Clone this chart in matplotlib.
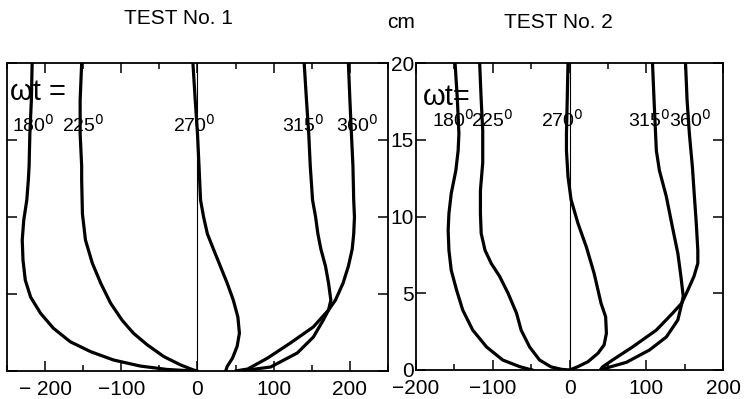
import numpy as np
import matplotlib
matplotlib.use("Agg")
import matplotlib.pyplot as plt

plt.rcParams['font.family'] = ['Liberation Sans', 'DejaVu Sans']

# ---- TEST No. 1 : velocity (x) vs height above bed in cm (y) ----
t1_180_y = [20, 17.6, 15.4, 13.3, 12.4, 11.1, 9.8, 8.5, 7.2, 5.9, 4.8, 3.75, 2.77, 1.9, 1.25, 0.71, 0.32, 0.1, 0]
t1_180_x = [-217, -218, -220, -221, -222, -224, -228, -230, -229, -226, -219, -206, -189, -167, -140, -110, -75, -40, -5]

t1_225_y = [20, 17.6, 15.4, 13.3, 12.4, 10.2, 8.5, 7.0, 5.7, 4.4, 3.3, 2.45, 1.7, 0.93, 0.39, 0.06, 0]
t1_225_x = [-152, -154, -154, -152, -152, -151, -147, -138, -127, -114, -99, -84, -66, -44, -22, -5, 0]

t1_270_y = [20, 17.6, 15.4, 13.3, 11.1, 10.0, 8.9, 7.9, 6.8, 5.7, 4.6, 3.5, 2.45, 1.6, 0.84, 0.3, 0]
t1_270_x = [-6, -3, 0, 2, 4, 8, 13, 21, 30, 39, 47, 53, 55, 52, 46, 39, 37]

t1_315_y = [20, 17.6, 15.4, 13.3, 11.1, 10.0, 8.9, 7.9, 6.8, 5.7, 4.6, 3.96, 3.3, 2.2, 1.17, 0.26, 0.06, 0]
t1_315_x = [140, 143, 146, 148, 151, 155, 158, 162, 168, 172, 175, 172, 165, 152, 131, 96, 66, 50]

t1_360_y = [20, 17.6, 15.4, 13.3, 11.1, 10.0, 8.9, 7.9, 6.8, 5.7, 4.6, 3.96, 2.86, 1.82, 0.84, 0.13, 0]
t1_360_x = [198, 200, 202, 204, 205, 206, 205, 203, 198, 191, 181, 172, 152, 122, 92, 66, 50]

# ---- TEST No. 2 ----
t2_180_y = [20, 17.6, 15.4, 14.3, 13.0, 11.5, 10.2, 9.1, 7.8, 6.5, 5.2, 3.9, 2.6, 1.5, 0.65, 0.22, 0.04, 0]
t2_180_x = [-149, -146, -144, -145, -148, -154, -157, -158, -157, -154, -147, -139, -126, -108, -87, -65, -52, -48]

t2_225_y = [20, 17.6, 15.6, 13.5, 11.7, 10.2, 8.9, 7.8, 6.95, 6.1, 5.0, 3.7, 2.6, 1.5, 0.65, 0.2, 0.04, 0]
t2_225_x = [-117, -115, -113, -113, -116, -116, -115, -110, -102, -91, -80, -69, -63, -52, -39, -24, -10, 0]

t2_270_y = [20, 17.6, 15.4, 14.3, 12.6, 11.1, 9.55, 8.0, 6.3, 4.35, 3.47, 2.39, 1.63, 1.09, 0.54, 0.22, 0]
t2_270_x = [-2, -3, -4, -4, -2, 2, 11, 22, 32, 41, 47, 48, 45, 37, 24, 11, 0]

t2_315_y = [20, 17.6, 15.4, 14.3, 13.0, 11.3, 9.3, 7.6, 6.1, 4.8, 4.3, 3.26, 2.15, 1.3, 0.5, 0.13, 0]
t2_315_x = [108, 110, 112, 113, 117, 126, 134, 141, 145, 148, 146, 141, 126, 104, 74, 48, 42]

t2_360_y = [20, 17.6, 15.4, 14.3, 13.2, 11.7, 9.55, 7.8, 6.95, 6.1, 5.2, 4.35, 3.69, 2.6, 1.5, 0.65, 0.2, 0]
t2_360_x = [151, 153, 156, 158, 160, 162, 165, 167, 167, 162, 154, 146, 134, 113, 82, 56, 43, 40]

phase_labels = ['180$^0$', '225$^0$', '270$^0$', '315$^0$', '360$^0$']
t1_label_x = [-215, -150, -4, 139, 209]
t2_label_x = [-152, -100, -10, 104, 157]

fontsize_selected = 15

fig = plt.figure(figsize=(7.44, 3.99), dpi=100)
ax1 = fig.add_axes([0.0094, 0.0702, 0.5121, 0.772])
ax2 = fig.add_axes([0.559, 0.0727, 0.413, 0.7693])

t1 = [(t1_180_x, t1_180_y), (t1_225_x, t1_225_y), (t1_270_x, t1_270_y),
      (t1_315_x, t1_315_y), (t1_360_x, t1_360_y)]
t2 = [(t2_180_x, t2_180_y), (t2_225_x, t2_225_y), (t2_270_x, t2_270_y),
      (t2_315_x, t2_315_y), (t2_360_x, t2_360_y)]

for ax, curves in [(ax1, t1), (ax2, t2)]:
    for cx, cy in curves:
        ax.plot(cx, cy, color='black', lw=2.3, solid_capstyle='round',
                solid_joinstyle='round')
    ax.axvline(0, color='black', lw=0.8)
    ax.set_ylim(0, 20)
    ax.set_xticks([-200, -100, 0, 100, 200])
    ax.set_yticks([0, 5, 10, 15, 20])
    ax.tick_params(which='both', direction='in', top=True, right=True,
                   labelsize=fontsize_selected, width=1.1)
    ax.tick_params(which='major', length=7)
    ax.tick_params(which='minor', length=4.5)
    ax.tick_params(axis='y', pad=1.5)
    ax.tick_params(axis='x', pad=6.5)
    for s in ax.spines.values():
        s.set_linewidth(1.3)

ax1.set_xlim(-250, 250)
ax1.set_xticks(np.arange(-250, 251, 50), minor=True)
ax1.set_xticklabels(['\u2212 200', '\u2212100', '0', '100', '200'])
ax1.tick_params(axis='y', labelleft=False)

ax2.set_xlim(-200, 200)
ax2.set_xticks(np.arange(-200, 201, 50), minor=True)
ax2.set_xticklabels(['\u2212200', '\u2212100', '0', '100', '200'])

# phase annotations
ax1.text(-246, 18.1, '\u03c9t =', fontsize=21, va='center', ha='left')
ax2.text(-191, 17.8, '\u03c9t=', fontsize=21, va='center', ha='left')
for lab, xx in zip(phase_labels, t1_label_x):
    ax1.text(xx, 16.0, lab, fontsize=14, ha='center', va='center')
for lab, xx in zip(phase_labels, t2_label_x):
    ax2.text(xx, 16.3, lab, fontsize=14, ha='center', va='center')

fig.text(0.24, 0.953, 'TEST No. 1', fontsize=fontsize_selected, ha='center', va='center')
fig.text(0.539, 0.943, 'cm', fontsize=fontsize_selected, ha='center', va='center')
fig.text(0.75, 0.943, 'TEST No. 2', fontsize=fontsize_selected, ha='center', va='center')

plt.savefig("out.png", dpi=100)
